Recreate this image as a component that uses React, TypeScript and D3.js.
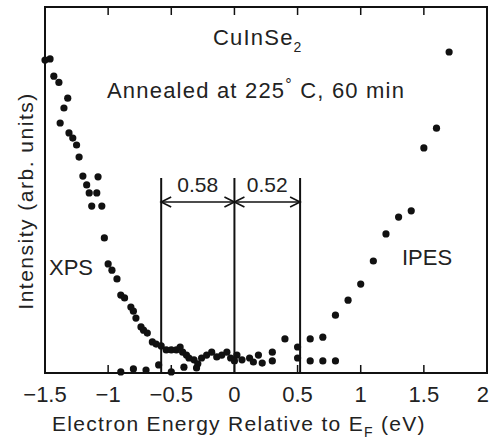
import React from "react";
import * as d3 from "d3";

const width = 490;
const height = 447;
const margin = { top: 7, right: 2, bottom: 74, left: 45 };

// XPS spectrum (energy in eV, intensity in arb. units)
const xpsEnergy = [
  -1.5, -1.46, -1.43, -1.39, -1.32, -1.35, -1.38, -1.31, -1.28, -1.25, -1.23,
  -1.2, -1.08, -1.17, -1.09, -1.15, -1.13, -1.05, -1.03, -1.0, -0.97, -0.93,
  -0.9, -0.87, -0.82, -0.8, -0.78, -0.74, -0.72, -0.69, -0.65, -0.62, -0.58,
  -0.54, -0.5, -0.46, -0.43, -0.41, -0.38, -0.36, -0.32, -0.29, -0.26, -0.22,
  -0.18, -0.14, -0.1, -0.06, -0.03, 0.02, 0.0, 0.06, 0.12, 0.15, 0.19, 0.22,
  0.3, 0.3
];
const xpsIntensity = [
  85.5, 85.8, 81.1, 79.4, 75.1, 72.4, 68.3, 65.6, 64.2, 62.3, 59.0, 53.8, 53.6,
  51.4, 49.2, 49.2, 45.6, 45.6, 36.9, 29.8, 28.1, 25.7, 21.3, 20.5, 18.0, 16.9,
  15.0, 12.6, 11.7, 10.9, 8.5, 7.9, 7.4, 6.3, 6.3, 6.3, 7.1, 5.7, 4.9, 4.1,
  3.6, 2.5, 4.1, 4.9, 5.7, 4.4, 4.9, 5.7, 4.1, 4.9, 3.3, 3.6, 4.1, 3.0, 4.9,
  2.7, 3.3, 5.7
];

// IPES spectrum
const ipesEnergy = [
  -0.9, -0.8, -0.7, -0.6, -0.5, -0.4, -0.3, 0.4, 0.5, 0.5, 0.6, 0.6, 0.7, 0.7,
  0.8, 0.8, 0.9, 1.0, 1.1, 1.2, 1.3, 1.4, 1.5, 1.6, 1.7
];
const ipesIntensity = [
  0.3, 1.1, 0.8, 2.2, 0.3, 1.6, 1.4, 9.3, 7.1, 4.1, 9.3, 3.3, 9.8, 3.3, 15.8,
  3.3, 19.9, 24.3, 30.6, 38.0, 42.6, 44.3, 61.5, 66.9, 87.7
];

const xTicks = [-1.5, -1, -0.5, 0, 0.5, 1, 1.5, 2];
const xTickLabels = ["\u22121.5", "\u22121", "\u22120.5", "0", "0.5", "1", "1.5", "2"];

// band edges: VBM, E_F, CBM
const edges = [-0.58, 0, 0.52];
const gapLabels = ["0.58", "0.52"];

const font = "'Liberation Sans', Arial, sans-serif";
const ink = "#111";

export default function App() {
  const x = d3
    .scaleLinear()
    .domain([-1.5, 2])
    .range([margin.left, width - margin.right - 1]);
  const y = d3
    .scaleLinear()
    .domain([0, 100])
    .range([height - margin.bottom, margin.top]);

  const top = y(100);
  const bottom = y(0);
  const lineTop = 178;
  const arrowY = 202;

  const xps = xpsEnergy.map((e, i) => ({ cx: x(e), cy: y(xpsIntensity[i]) }));
  const ipes = ipesEnergy.map((e, i) => ({ cx: x(e), cy: y(ipesIntensity[i]) }));

  const arrow = (from: number, to: number) => {
    const dir = to > from ? 1 : -1;
    const h = 10;
    return `M${to - dir * h},${arrowY - 5}L${to},${arrowY}L${to - dir * h},${arrowY + 5}`;
  };

  return (
    <svg
      width={width}
      height={height}
      style={{ position: "absolute", left: 0, top: 0, background: "#fff" }}
    >
      {/* frame */}
      <rect
        x={x(-1.5)}
        y={top}
        width={x(2) - x(-1.5)}
        height={bottom - top}
        fill="none"
        stroke={ink}
        strokeWidth={2}
      />
      {/* ticks top and bottom, inward */}
      {xTicks.slice(1, -1).map((t, i) => (
        <g key={i} stroke={ink} strokeWidth={1.5}>
          <line x1={x(t)} x2={x(t)} y1={top} y2={top + 8} />
          <line x1={x(t)} x2={x(t)} y1={bottom} y2={bottom - 8} />
        </g>
      ))}
      {xTicks.map((t, i) => {
        const last = i === xTicks.length - 1;
        return (
          <text
            key={i}
            x={last ? width - 1 : x(t)}
            y={bottom + 29}
            textAnchor={last ? "end" : "middle"}
            fontFamily={font}
            fontSize={22}
            fill="#222"
          >
            {xTickLabels[i]}
          </text>
        );
      })}

      {/* band-edge markers */}
      {edges.map((e, i) => (
        <line
          key={i}
          x1={x(e)}
          x2={x(e)}
          y1={lineTop}
          y2={bottom}
          stroke={ink}
          strokeWidth={2}
        />
      ))}
      {[0, 1].map((i) => {
        const a = x(edges[i]);
        const b = x(edges[i + 1]);
        return (
          <g key={i} fill="none" stroke={ink} strokeWidth={1.6}>
            <line x1={a} x2={b} y1={arrowY} y2={arrowY} />
            <path d={arrow(b, a)} />
            <path d={arrow(a, b)} />
            <text
              x={(a + b) / 2}
              y={arrowY - 10}
              textAnchor="middle"
              fontFamily={font}
              fontSize={21}
              fill="#222"
              stroke="none"
            >
              {gapLabels[i]}
            </text>
          </g>
        );
      })}

      {/* data */}
      {xps.map((d, i) => (
        <circle key={"x" + i} cx={d.cx} cy={d.cy} r={3.6} fill={ink} />
      ))}
      {ipes.map((d, i) => (
        <circle key={"i" + i} cx={d.cx} cy={d.cy} r={3.6} fill={ink} />
      ))}

      {/* annotations */}
      <text x={213} y={45} fontFamily={font} fontSize={22} letterSpacing={1.2} fill="#222">
        CuInSe<tspan fontSize={14} dy={7}>2</tspan>
      </text>
      <text x={107} y={98} fontFamily={font} fontSize={22} letterSpacing={1.2} fill="#222">
        Annealed at 225<tspan fontSize={16} dy={-8}>°</tspan>
        <tspan dy={8}> C, 60 min</tspan>
      </text>
      <text x={49} y={275} fontFamily={font} fontSize={22} fill="#222">
        XPS
      </text>
      <text x={402} y={265} fontFamily={font} fontSize={22} fill="#222">
        IPES
      </text>

      {/* axis titles */}
      <text
        x={52}
        y={431}
        fontFamily={font}
        fontSize={21}
        letterSpacing={1.3}
        fill="#222"
      >
        Electron Energy Relative to E<tspan fontSize={14} dy={6}>F</tspan>
        <tspan dy={-6}> (eV)</tspan>
      </text>
      <text
        transform={`translate(33,201) rotate(-90)`}
        textAnchor="middle"
        fontFamily={font}
        fontSize={21}
        letterSpacing={1.5}
        fill="#222"
      >
        Intensity (arb. units)
      </text>
    </svg>
  );
}
